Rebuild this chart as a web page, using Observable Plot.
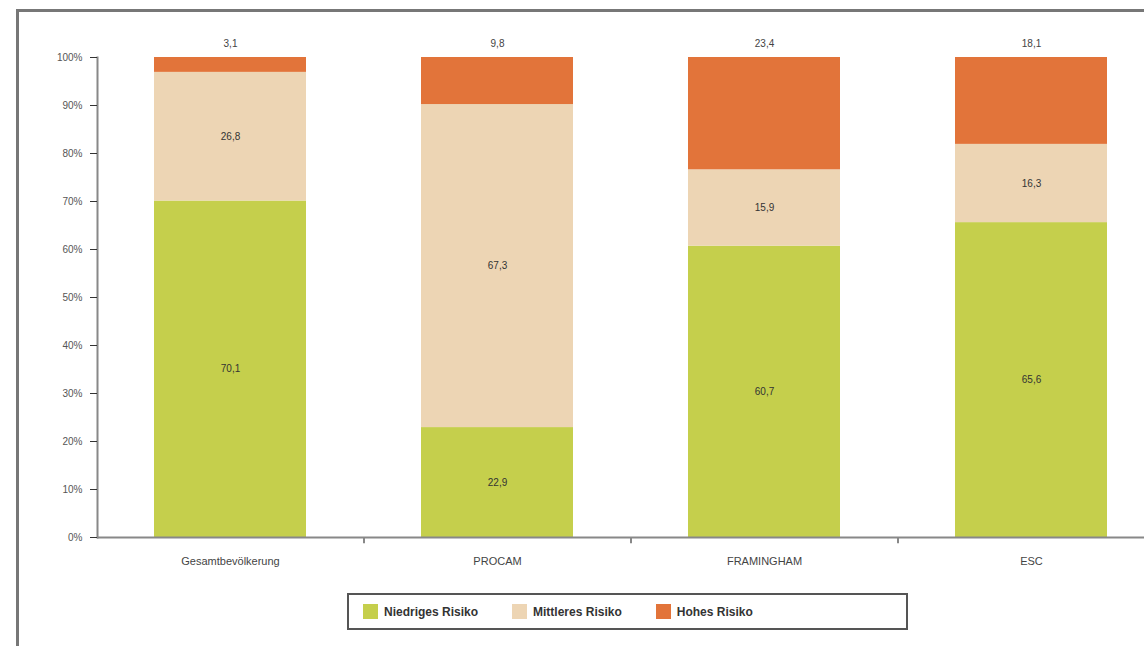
<!DOCTYPE html>
<html>
<head>
<meta charset="utf-8">
<script src="https://cdn.jsdelivr.net/npm/d3@7"></script>
<script src="https://cdn.jsdelivr.net/npm/@observablehq/plot@0.6"></script>
<style>
  html, body { margin: 0; padding: 0; background: #fff; width: 1144px; height: 646px; overflow: hidden; }
  body { position: relative; font-family: "Liberation Sans", Arial, sans-serif; }
  #frame { position: absolute; left: 16px; top: 9px; width: 1300px; height: 700px; border: 3px solid #777; box-sizing: border-box; }
  #chart { position: absolute; left: 0; top: 0; }
  #legend { position: absolute; left: 347px; top: 593px; width: 561px; height: 37px; box-sizing: border-box;
            border: 2px solid #555; background: #fff; display: flex; align-items: center; padding-left: 14px;
            font-size: 12px; font-weight: bold; color: #333; }
  .item { display: flex; align-items: center; margin-right: 34px; }
  .sw { width: 15px; height: 15px; margin-right: 6px; }
</style>
</head>
<body>
<div id="frame"></div>
<div id="chart"></div>
<div id="legend"></div>
<script>
const categories = ["Gesamtbevölkerung", "PROCAM", "FRAMINGHAM", "ESC"];
const series = ["Niedriges Risiko", "Mittleres Risiko", "Hohes Risiko"];
const niedrig = [70.1, 22.9, 60.7, 65.6];
const mittel  = [26.8, 67.3, 15.9, 16.3];
const hoch    = [3.1, 9.8, 23.4, 18.1];
const colors = ["#c5cf4c", "#edd5b4", "#e2743a"];
const yTicks = [0, 10, 20, 30, 40, 50, 60, 70, 80, 90, 100];

const values = [niedrig, mittel, hoch];
const data = [];
series.forEach((s, si) => categories.forEach((c, ci) => data.push({cat: c, risk: s, value: values[si][ci]})));
const fmt = v => v.toFixed(1).replace(".", ",");

const chart = Plot.plot({
  width: 1144,
  height: 580,
  marginTop: 57,
  marginBottom: 43,
  marginLeft: 97,
  marginRight: 0,
  style: {fontFamily: "Liberation Sans, Arial, sans-serif", background: "transparent"},
  x: {domain: categories, range: [97, 1165], paddingInner: 0.43, paddingOuter: 0.215, label: null},
  y: {domain: [0, 100], label: null},
  color: {domain: series, range: colors},
  marks: [
    Plot.barY(data, Plot.stackY({x: "cat", y: "value", fill: "risk", order: series})),
    Plot.text(data.filter(d => d.risk !== "Hohes Risiko"),
      Plot.stackY({x: "cat", y: "value", z: "risk", order: series, text: d => fmt(d.value), fontSize: 10, fill: "#333"})),
    Plot.text(data.filter(d => d.risk === "Hohes Risiko"),
      {x: "cat", y: 100, text: d => fmt(d.value), dy: -14, fontSize: 10, fill: "#444"}),
    Plot.ruleY([0], {stroke: "#888", strokeWidth: 2}),
    Plot.ruleX(categories.slice(1), {x: d => d, dx: -133.5, y1: 0, y2: -1.3, stroke: "#888", strokeWidth: 2}),
    Plot.frame({anchor: "left", stroke: "#888", strokeWidth: 2}),
    Plot.axisY({ticks: yTicks, tickFormat: d => d + "%", tickSize: 7, tickPadding: 8, fontSize: 10, color: "#555", stroke: "#333"}),
    Plot.axisX({tickSize: 0, tickPadding: 20, fontSize: 11, color: "#444"})
  ]
});
document.getElementById("chart").appendChild(chart);

const legend = document.getElementById("legend");
series.forEach((s, i) => {
  const it = document.createElement("div");
  it.className = "item";
  const sw = document.createElement("div");
  sw.className = "sw";
  sw.style.background = colors[i];
  const t = document.createElement("span");
  t.textContent = s;
  it.appendChild(sw); it.appendChild(t);
  legend.appendChild(it);
});
</script>
</body>
</html>
